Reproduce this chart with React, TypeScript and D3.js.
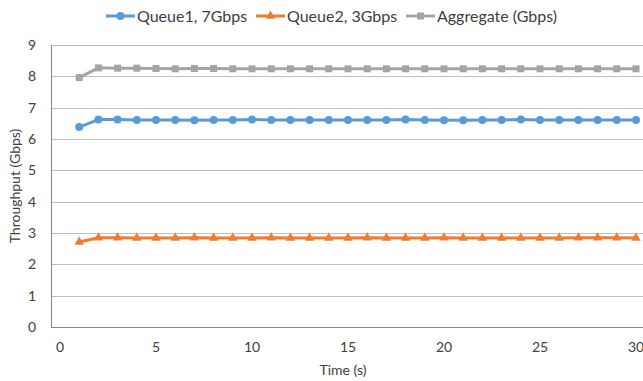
import React, { useRef, useEffect } from 'react';
import * as d3 from 'd3';

const seconds = d3.range(1, 31);
const queue1 = [6.38, 6.62, 6.62, 6.61, 6.61, 6.61, 6.60, 6.61, 6.61, 6.62, 6.61, 6.61, 6.61, 6.61, 6.61, 6.61, 6.61, 6.62, 6.61, 6.60, 6.60, 6.61, 6.61, 6.62, 6.61, 6.61, 6.61, 6.61, 6.61, 6.61];
const queue2 = [2.71, 2.85, 2.85, 2.84, 2.84, 2.84, 2.85, 2.84, 2.84, 2.84, 2.85, 2.84, 2.84, 2.84, 2.84, 2.85, 2.84, 2.84, 2.84, 2.85, 2.84, 2.84, 2.84, 2.84, 2.84, 2.84, 2.85, 2.85, 2.85, 2.84];
const aggregate = [7.96, 8.27, 8.26, 8.26, 8.25, 8.24, 8.25, 8.25, 8.24, 8.24, 8.24, 8.24, 8.24, 8.24, 8.24, 8.24, 8.24, 8.24, 8.24, 8.24, 8.24, 8.24, 8.24, 8.24, 8.24, 8.24, 8.24, 8.24, 8.24, 8.24];
const yTicks = [0, 1, 2, 3, 4, 5, 6, 7, 8, 9];
const xTicks = [0, 5, 10, 15, 20, 25, 30];

const series = [
  { name: 'Queue1, 7Gbps', values: queue1, color: '#5B9BD5', marker: 'circle' },
  { name: 'Queue2, 3Gbps', values: queue2, color: '#ED7D31', marker: 'triangle' },
  { name: 'Aggregate (Gbps)', values: aggregate, color: '#A5A5A5', marker: 'square' },
];

const font = 'Lato, "Open Sans", sans-serif';

const App = () => {
  const ref = useRef<SVGSVGElement>(null);

  useEffect(() => {
    const svg = d3.select(ref.current);
    svg.selectAll('*').remove();

    const plot = { left: 51, top: 45, right: 643, bottom: 327 };
    const x = d3.scaleLinear().domain([0, 30]).range([60, 636]);
    const y = d3.scaleLinear().domain([0, 9]).range([plot.bottom, plot.top]);

    // gridlines
    svg
      .append('g')
      .selectAll('line')
      .data(yTicks)
      .enter()
      .append('line')
      .attr('x1', plot.left)
      .attr('x2', plot.right)
      .attr('y1', (d) => Math.round(y(d)) + 0.5)
      .attr('y2', (d) => Math.round(y(d)) + 0.5)
      .attr('stroke', '#BFBFBF')
      .attr('stroke-width', 1);

    // axis lines
    svg
      .append('line')
      .attr('x1', plot.left + 0.5)
      .attr('x2', plot.left + 0.5)
      .attr('y1', plot.top)
      .attr('y2', plot.bottom + 1)
      .attr('stroke', '#868686');
    svg
      .append('line')
      .attr('x1', plot.left)
      .attr('x2', plot.right)
      .attr('y1', Math.round(y(0)) + 0.5)
      .attr('y2', Math.round(y(0)) + 0.5)
      .attr('stroke', '#868686');

    // tick labels
    svg
      .append('g')
      .selectAll('text')
      .data(yTicks)
      .enter()
      .append('text')
      .attr('x', 36)
      .attr('y', (d) => y(d))
      .attr('dy', '0.35em')
      .attr('text-anchor', 'end')
      .style('font-family', font)
      .style('font-size', '14px')
      .attr('fill', '#404040')
      .text((d) => d);

    svg
      .append('g')
      .selectAll('text')
      .data(xTicks)
      .enter()
      .append('text')
      .attr('x', (d) => x(d))
      .attr('y', 352)
      .attr('text-anchor', 'middle')
      .style('font-family', font)
      .style('font-size', '14px')
      .attr('fill', '#404040')
      .text((d) => d);

    // axis titles
    svg
      .append('text')
      .attr('x', 343)
      .attr('y', 375)
      .attr('text-anchor', 'middle')
      .style('font-family', font)
      .style('font-size', '14px')
      .attr('fill', '#404040')
      .text('Time (s)');
    svg
      .append('text')
      .attr('transform', `translate(20,${(plot.top + plot.bottom) / 2}) rotate(-90)`)
      .attr('text-anchor', 'middle')
      .style('font-family', font)
      .style('font-size', '14px')
      .attr('fill', '#404040')
      .text('Throughput (Gbps)');

    const line = d3
      .line<number>()
      .x((_, i) => x(seconds[i]))
      .y((d) => y(d));

    const drawMarker = (g, type, color, cx, cy) => {
      if (type === 'circle') {
        g.append('circle').attr('cx', cx).attr('cy', cy).attr('r', 4).attr('fill', color);
      } else if (type === 'square') {
        g.append('rect').attr('x', cx - 3.5).attr('y', cy - 3.5).attr('width', 7).attr('height', 7).attr('fill', color);
      } else {
        g.append('path')
          .attr('d', d3.symbol().type(d3.symbolTriangle).size(40)())
          .attr('transform', `translate(${cx},${cy})`)
          .attr('fill', color);
      }
    };

    series.forEach((s) => {
      const g = svg.append('g');
      g.append('path')
        .datum(s.values)
        .attr('d', line)
        .attr('fill', 'none')
        .attr('stroke', s.color)
        .attr('stroke-width', 3)
        .attr('stroke-linejoin', 'round');
      s.values.forEach((v, i) => drawMarker(g, s.marker, s.color, x(seconds[i]), y(v)));
    });

    // legend
    const legendX = [106, 256, 406];
    series.forEach((s, i) => {
      const g = svg.append('g').attr('transform', `translate(${legendX[i]},16)`);
      g.append('line').attr('x1', 0).attr('x2', 29).attr('stroke', s.color).attr('stroke-width', 3);
      drawMarker(g, s.marker, s.color, 14.5, 0);
      g.append('text')
        .attr('x', 31)
        .attr('dy', '0.35em')
        .style('font-family', font)
        .style('font-size', '16px')
        .attr('fill', '#404040')
        .text(s.name);
    });
  }, []);

  return <svg ref={ref} width={643} height={381} style={{ position: 'absolute', left: 0, top: 0 }}></svg>;
};

export default App;
